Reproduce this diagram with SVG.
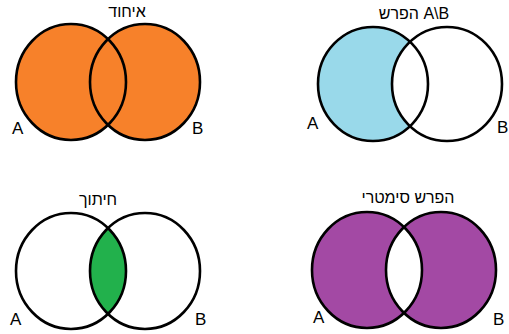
<svg xmlns="http://www.w3.org/2000/svg" width="509" height="334" viewBox="0 0 509 334">
<style>
.o{stroke:#000;stroke-width:2.6;fill:none}
.t{font-family:"Liberation Sans","DejaVu Sans",Arial,sans-serif;font-size:16px;fill:#000;text-anchor:middle}
.l{font-family:"Liberation Sans",Arial,sans-serif;font-size:17px;fill:#000}
</style>
<defs>
<clipPath id="c3"><ellipse cx="71" cy="271" rx="55" ry="58"/></clipPath>
<clipPath id="c4"><ellipse cx="367" cy="270" rx="55" ry="58"/></clipPath>
</defs>
<rect width="509" height="334" fill="#fff"/>
<g id="union">
<ellipse cx="71" cy="82" rx="55" ry="58" fill="#F7812A"/>
<ellipse cx="145" cy="82" rx="55" ry="58" fill="#F7812A"/>
<ellipse class="o" cx="71" cy="82" rx="55" ry="58"/>
<ellipse class="o" cx="145" cy="82" rx="55" ry="58"/>
<text class="t" x="127" y="17">איחוד</text>
<text class="l" x="12" y="134">A</text>
<text class="l" x="192" y="134">B</text>
</g>
<g id="difference">
<ellipse cx="373" cy="84" rx="55" ry="57" fill="#99D9EA"/>
<ellipse cx="447" cy="84" rx="55" ry="57" fill="#fff"/>
<ellipse class="o" cx="373" cy="84" rx="55" ry="57"/>
<ellipse class="o" cx="447" cy="84" rx="55" ry="57"/>
<text class="t" x="414" y="19">הפרש A\B</text>
<text class="l" x="307" y="129">A</text>
<text class="l" x="497" y="133">B</text>
</g>
<g id="intersection">
<ellipse cx="145" cy="271" rx="55" ry="58" fill="#22B14C" clip-path="url(#c3)"/>
<ellipse class="o" cx="71" cy="271" rx="55" ry="58"/>
<ellipse class="o" cx="145" cy="271" rx="55" ry="58"/>
<text class="t" x="98" y="205">חיתוך</text>
<text class="l" x="10" y="325">A</text>
<text class="l" x="195" y="325">B</text>
</g>
<g id="symmetric">
<ellipse cx="367" cy="270" rx="55" ry="58" fill="#A349A4"/>
<ellipse cx="441" cy="270" rx="55" ry="58" fill="#A349A4"/>
<ellipse cx="441" cy="270" rx="55" ry="58" fill="#fff" clip-path="url(#c4)"/>
<ellipse class="o" cx="367" cy="270" rx="55" ry="58"/>
<ellipse class="o" cx="441" cy="270" rx="55" ry="58"/>
<text class="t" x="408" y="203">הפרש סימטרי</text>
<text class="l" x="313" y="323">A</text>
<text class="l" x="493" y="325">B</text>
</g>
<g id="connectors"/>
</svg>
